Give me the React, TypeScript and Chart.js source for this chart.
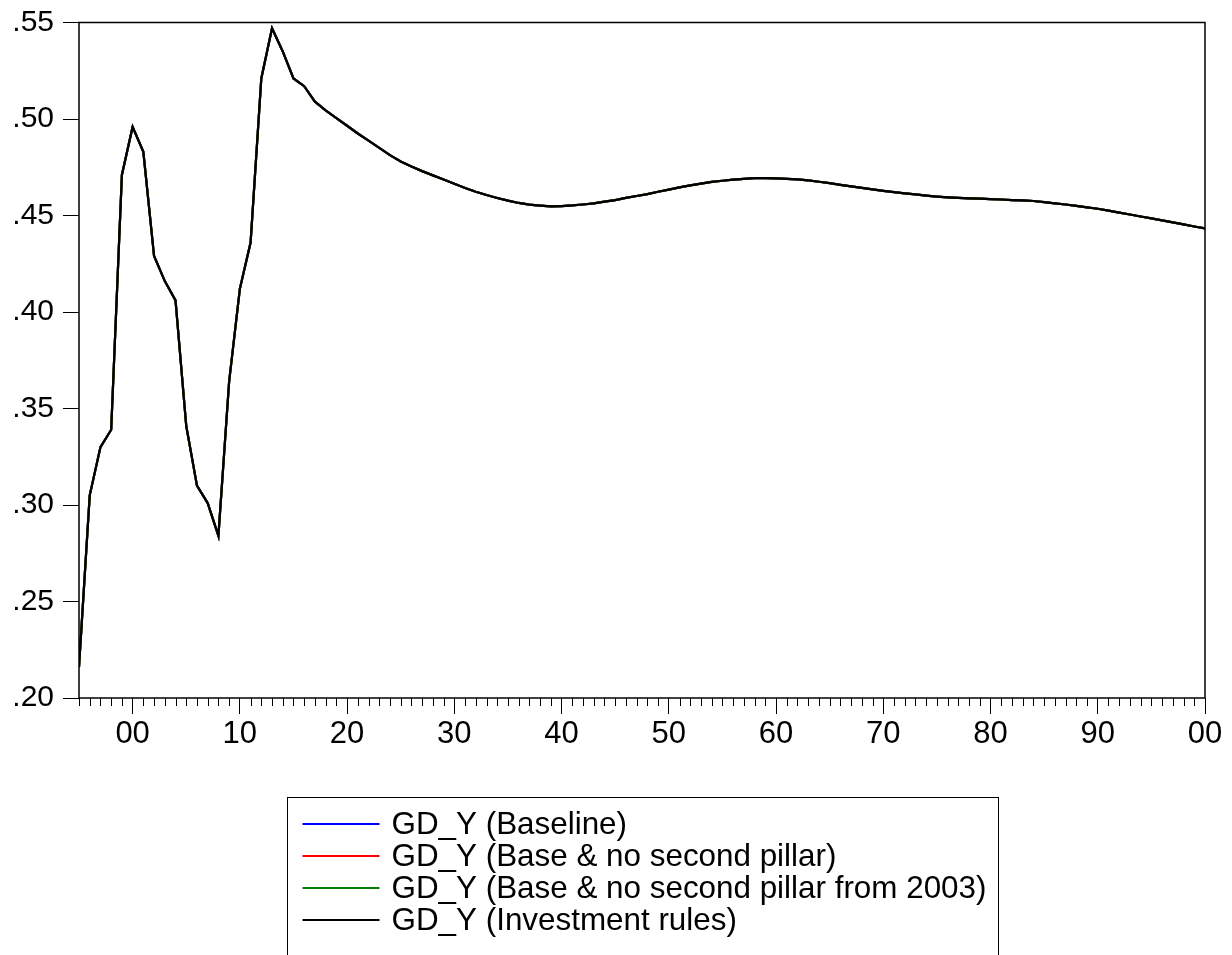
import React, { useEffect, useRef } from 'react';
import { Chart, registerables } from 'chart.js';

Chart.register(...registerables);

const FONT = '"Liberation Sans", Arial, Helvetica, sans-serif';

// Years 1995 .. 2100
const years = [
  1995, 1996, 1997, 1998, 1999,
  2000, 2001, 2002, 2003, 2004, 2005, 2006, 2007, 2008, 2009,
  2010, 2011, 2012, 2013, 2014, 2015, 2016, 2017, 2018, 2019,
  2020, 2021, 2022, 2023, 2024, 2025, 2026, 2027, 2028, 2029,
  2030, 2031, 2032, 2033, 2034, 2035, 2036, 2037, 2038, 2039,
  2040, 2041, 2042, 2043, 2044, 2045, 2046, 2047, 2048, 2049,
  2050, 2051, 2052, 2053, 2054, 2055, 2056, 2057, 2058, 2059,
  2060, 2061, 2062, 2063, 2064, 2065, 2066, 2067, 2068, 2069,
  2070, 2071, 2072, 2073, 2074, 2075, 2076, 2077, 2078, 2079,
  2080, 2081, 2082, 2083, 2084, 2085, 2086, 2087, 2088, 2089,
  2090, 2091, 2092, 2093, 2094, 2095, 2096, 2097, 2098, 2099,
  2100,
];

// GD_Y values (all four scenarios coincide)
const gdYValues = [
  0.216, 0.305, 0.330, 0.339, 0.471,
  0.496, 0.483, 0.429, 0.416, 0.406, 0.341, 0.310, 0.301, 0.284, 0.364,
  0.412, 0.436, 0.521, 0.547, 0.535, 0.521, 0.517, 0.509, 0.5045, 0.5005,
  0.4965, 0.4925, 0.4888, 0.485, 0.4813, 0.478, 0.4754, 0.473, 0.4708, 0.4686,
  0.4665, 0.4642, 0.4623, 0.4606, 0.4591, 0.4577, 0.4565, 0.4556, 0.4551, 0.4547,
  0.4549, 0.4552, 0.4557, 0.4563, 0.4572, 0.458, 0.4591, 0.4601, 0.4611, 0.4623,
  0.4634, 0.4646, 0.4656, 0.4665, 0.4674, 0.468, 0.4686, 0.469, 0.4694, 0.4694,
  0.4692, 0.469, 0.4687, 0.4682, 0.4675, 0.4668, 0.4659, 0.4651, 0.4643, 0.4635,
  0.4628, 0.4621, 0.4615, 0.4609, 0.4603, 0.4598, 0.4594, 0.4591, 0.4589, 0.4587,
  0.4585, 0.4583, 0.458, 0.4578, 0.4575, 0.4569, 0.4563, 0.4557, 0.455, 0.4542,
  0.4535, 0.4525, 0.4515, 0.4505, 0.4495, 0.4485, 0.4475, 0.4464, 0.4454, 0.4443,
  0.4433,
];

const baseline = gdYValues;
const noSecondPillar = gdYValues;
const noSecondPillar2003 = gdYValues;
const investmentRules = gdYValues;

const seriesLabels = [
  'GD_Y (Baseline)',
  'GD_Y (Base & no second pillar)',
  'GD_Y (Base & no second pillar from 2003)',
  'GD_Y (Investment rules)',
];
const seriesColors = ['#0000ff', '#ff0000', '#008000', '#000000'];
const seriesValues = [baseline, noSecondPillar, noSecondPillar2003, investmentRules];

const yMin = 0.2;
const yMax = 0.55;
const yStep = 0.05;
const xMin = 1995;
const xMax = 2100;
const xStep = 10;

const framePlugin = {
  id: 'evFrame',
  afterDraw(chart: any) {
    const { ctx, chartArea: a, scales } = chart;
    ctx.save();
    // frame
    ctx.strokeStyle = '#000';
    ctx.lineWidth = 1.5;
    ctx.strokeRect(a.left, a.top, a.right - a.left, a.bottom - a.top);
    // minor x ticks
    ctx.lineWidth = 1;
    const xs = scales.x;
    for (const yr of years) {
      if (yr % 10 === 0) continue;
      const px = Math.round(xs.getPixelForValue(yr)) + 0.5;
      ctx.beginPath();
      ctx.moveTo(px, a.bottom);
      ctx.lineTo(px, a.bottom + 8);
      ctx.stroke();
    }
    // legend
    const boxW = 711;
    const cx = (a.left + a.right) / 2;
    const boxL = Math.round(cx - boxW / 2) + 0.5;
    const boxT = 797.5;
    ctx.lineWidth = 1;
    ctx.strokeStyle = '#000';
    ctx.strokeRect(boxL, boxT, boxW, 300);
    ctx.font = `31.4px ${FONT}`;
    ctx.textBaseline = 'middle';
    ctx.textAlign = 'left';
    chart.data.datasets.forEach((ds: any, i: number) => {
      const y = 824 + i * 32;
      ctx.strokeStyle = ds.borderColor;
      ctx.lineWidth = 2;
      ctx.beginPath();
      ctx.moveTo(boxL + 15, y);
      ctx.lineTo(boxL + 92, y);
      ctx.stroke();
      ctx.fillStyle = '#000';
      ctx.fillText(ds.label, boxL + 104, y + 1);
    });
    ctx.restore();
  },
};

export default function App() {
  const ref = useRef<HTMLCanvasElement | null>(null);

  useEffect(() => {
    document.body.style.margin = '0';
    const canvas = ref.current;
    if (!canvas) return;
    const chart = new Chart(canvas, {
      type: 'line',
      data: {
        datasets: seriesLabels.map((label, i) => ({
          label,
          data: seriesValues[i].map((v, k) => ({ x: years[k], y: v })),
          borderColor: seriesColors[i],
          backgroundColor: seriesColors[i],
          borderWidth: 2.2,
          pointRadius: 0,
          tension: 0,
          fill: false,
          order: seriesLabels.length - i,
        })),
      },
      options: {
        animation: false,
        responsive: false,
        devicePixelRatio: 1,
        events: [],
        layout: { padding: { top: 22.5, right: 27, left: 0, bottom: 0 } },
        plugins: {
          legend: { display: false },
          tooltip: { enabled: false },
          title: { display: false },
        },
        scales: {
          x: {
            type: 'linear',
            min: xMin,
            max: xMax,
            afterFit: (s: any) => { s.height = 257; },
            border: { display: false },
            grid: {
              drawOnChartArea: false,
              drawTicks: true,
              tickLength: 16,
              tickColor: '#000',
              tickWidth: 1,
            },
            ticks: {
              stepSize: xStep,
              includeBounds: false,
              autoSkip: false,
              maxRotation: 0,
              padding: 2,
              color: '#000',
              font: { family: FONT, size: 31 },
              callback: (v: any) => String(Number(v) % 100).padStart(2, '0'),
            },
          },
          y: {
            type: 'linear',
            min: yMin,
            max: yMax,
            afterFit: (s: any) => { s.width = 79; s.paddingTop = 0; s.paddingBottom = 0; },
            border: { display: false },
            grid: {
              drawOnChartArea: false,
              drawTicks: true,
              tickLength: 16,
              tickColor: '#000',
              tickWidth: 1,
            },
            ticks: {
              stepSize: yStep,
              padding: 9,
              color: '#000',
              font: { family: FONT, size: 30 },
              callback: (v: any) => Number(v).toFixed(2).replace(/^0/, ''),
            },
          },
        },
      },
      plugins: [framePlugin],
    });
    return () => chart.destroy();
  }, []);

  return (
    <div style={{ position: 'absolute', left: 0, top: 0, width: 1232, height: 955, background: '#fff' }}>
      <canvas ref={ref} width={1232} height={955} />
    </div>
  );
}
